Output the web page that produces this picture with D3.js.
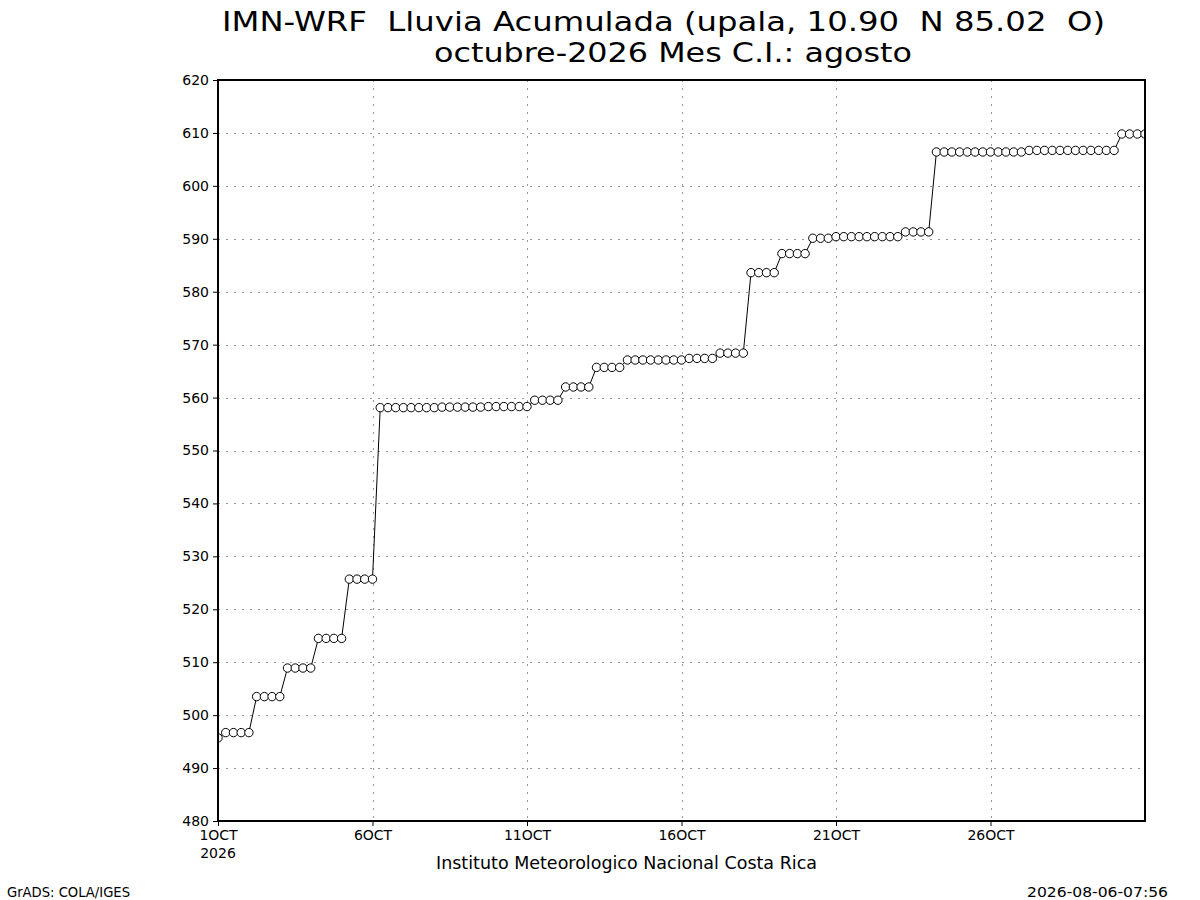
<!DOCTYPE html>
<html>
<head>
<meta charset="utf-8">
<script src="https://cdn.jsdelivr.net/npm/d3@7"></script>
<style>
  body { margin: 0; background: #fff; }
  text { font-family: "DejaVu Sans", sans-serif; fill: #000; }
</style>
</head>
<body>
<div id="chart"></div>
<script>
"use strict"

// accumulated rain (mm), one value every 6 hours from 1OCT 00Z to 31OCT 00Z
const rainValues = [
    495.7,
    496.7, 496.7, 496.7, 496.7,
    503.5, 503.5, 503.5, 503.5,
    508.9, 508.9, 508.9, 508.9,
    514.5, 514.5, 514.5, 514.5,
    525.7, 525.7, 525.7, 525.7,
    558.1, 558.1, 558.1, 558.1, 558.1, 558.1, 558.1, 558.1,
    558.2, 558.2, 558.2, 558.2, 558.2, 558.2,
    558.3, 558.3, 558.3, 558.3, 558.3, 558.3,
    559.5, 559.5, 559.5, 559.5,
    562.0, 562.0, 562.0, 562.0,
    565.7, 565.7, 565.7, 565.7,
    567.1, 567.1, 567.1, 567.1, 567.1, 567.1, 567.1, 567.1,
    567.4, 567.4, 567.4, 567.4,
    568.4, 568.4, 568.4, 568.4,
    583.6, 583.6, 583.6, 583.6,
    587.2, 587.2, 587.2, 587.2,
    590.1, 590.1, 590.1,
    590.4, 590.4, 590.4, 590.4, 590.4, 590.4, 590.4, 590.4, 590.4,
    591.3, 591.3, 591.3, 591.3,
    606.4, 606.4, 606.4, 606.4, 606.4, 606.4, 606.4, 606.4, 606.4, 606.4, 606.4, 606.4,
    606.7, 606.7, 606.7, 606.7, 606.7, 606.7, 606.7, 606.7, 606.7, 606.7, 606.7, 606.7,
    609.8, 609.8, 609.8, 609.8
];

const yTicks = [480, 490, 500, 510, 520, 530, 540, 550, 560, 570, 580, 590, 600, 610, 620];
const xTickDays = [1, 6, 11, 16, 21, 26];
const xTickLabels = ["1OCT", "6OCT", "11OCT", "16OCT", "21OCT", "26OCT"];

const titleLine1 = "IMN-WRF  Lluvia Acumulada (upala, 10.90  N 85.02  O)";
const titleLine2 = "octubre-2026 Mes C.I.: agosto";
const footerCenter = "Instituto Meteorologico Nacional Costa Rica";
const footerLeft = "GrADS: COLA/IGES";
const footerRight = "2026-08-06-07:56";

const width = 1200, height = 900;
const plot = { left: 218, right: 1145, top: 80, bottom: 821 };

const startTime = Date.UTC(2026, 9, 1, 0);
const sixHours = 6 * 3600 * 1000;
const data = rainValues.map((v, i) => ({ t: new Date(startTime + i * sixHours), v: v }));

const x = d3.scaleUtc()
    .domain([new Date(startTime), new Date(Date.UTC(2026, 9, 31, 0))])
    .range([plot.left, plot.right]);

const y = d3.scaleLinear()
    .domain([480, 620])
    .range([plot.bottom, plot.top]);

const svg = d3.select("#chart").append("svg")
    .attr("width", width)
    .attr("height", height);

svg.append("defs").append("clipPath")
    .attr("id", "plotClip")
    .append("rect")
    .attr("x", plot.left)
    .attr("y", plot.top)
    .attr("width", plot.right - plot.left)
    .attr("height", plot.bottom - plot.top);

/* dotted grid */
let grid = svg.append("g")
    .attr("stroke", "#999")
    .attr("stroke-width", 1)
    .attr("stroke-dasharray", "2,6");

grid.selectAll(".hgrid")
    .data(yTicks)
    .enter().append("line")
    .attr("x1", plot.left)
    .attr("x2", plot.right)
    .attr("y1", d => Math.round(y(d)) + 0.5)
    .attr("y2", d => Math.round(y(d)) + 0.5);

grid.selectAll(".vgrid")
    .data(xTickDays)
    .enter().append("line")
    .attr("x1", d => Math.round(x(new Date(Date.UTC(2026, 9, d)))) + 0.5)
    .attr("x2", d => Math.round(x(new Date(Date.UTC(2026, 9, d)))) + 0.5)
    .attr("y1", plot.top)
    .attr("y2", plot.bottom);

/* series line and open circle markers */
let series = svg.append("g").attr("clip-path", "url(#plotClip)");

series.append("path")
    .datum(data)
    .attr("fill", "none")
    .attr("stroke", "#000")
    .attr("stroke-width", 1)
    .attr("d", d3.line().x(d => x(d.t)).y(d => y(d.v)));

series.selectAll("circle")
    .data(data)
    .enter().append("circle")
    .attr("cx", d => x(d.t))
    .attr("cy", d => y(d.v))
    .attr("r", 4.2)
    .attr("fill", "#fff")
    .attr("stroke", "#000")
    .attr("stroke-width", 1);

/* frame */
svg.append("rect")
    .attr("x", plot.left)
    .attr("y", plot.top)
    .attr("width", plot.right - plot.left)
    .attr("height", plot.bottom - plot.top)
    .attr("fill", "none")
    .attr("stroke", "#000")
    .attr("stroke-width", 2);

/* y axis */
let yAxis = d3.axisLeft(y)
    .tickValues(yTicks)
    .tickSize(5)
    .tickPadding(4)
    .tickFormat(d3.format("d"));

svg.append("g")
    .attr("transform", `translate(${plot.left},0)`)
    .call(yAxis)
    .call(g => g.select(".domain").remove())
    .call(g => g.selectAll("text")
        .style("font-family", "DejaVu Sans, sans-serif")
        .style("font-size", "14px")
        .attr("fill", "#000"));

/* x axis */
let xAxis = d3.axisBottom(x)
    .tickValues(xTickDays.map(d => new Date(Date.UTC(2026, 9, d))))
    .tickSize(5)
    .tickPadding(4)
    .tickFormat((d, i) => xTickLabels[i]);

svg.append("g")
    .attr("transform", `translate(0,${plot.bottom})`)
    .call(xAxis)
    .call(g => g.select(".domain").remove())
    .call(g => g.selectAll("text")
        .style("font-family", "DejaVu Sans, sans-serif")
        .style("font-size", "14px")
        .attr("fill", "#000"));

svg.append("text")
    .attr("x", x(new Date(startTime)))
    .attr("y", 858)
    .attr("text-anchor", "middle")
    .style("font-size", "14px")
    .text("2026");

/* titles and footers */
svg.append("text")
    .attr("x", 222)
    .attr("y", 31)
    .attr("textLength", 883)
    .attr("lengthAdjust", "spacingAndGlyphs")
    .style("font-size", "26px")
    .style("white-space", "pre")
    .text(titleLine1);

svg.append("text")
    .attr("x", 434)
    .attr("y", 62)
    .attr("textLength", 478)
    .attr("lengthAdjust", "spacingAndGlyphs")
    .style("font-size", "26px")
    .text(titleLine2);

svg.append("text")
    .attr("x", 436)
    .attr("y", 869)
    .attr("textLength", 381)
    .attr("lengthAdjust", "spacingAndGlyphs")
    .style("font-size", "17px")
    .text(footerCenter);

svg.append("text")
    .attr("x", 7)
    .attr("y", 897)
    .attr("textLength", 123)
    .attr("lengthAdjust", "spacingAndGlyphs")
    .style("font-size", "14px")
    .text(footerLeft);

svg.append("text")
    .attr("x", 1027)
    .attr("y", 897)
    .attr("textLength", 141)
    .attr("lengthAdjust", "spacingAndGlyphs")
    .style("font-size", "14px")
    .text(footerRight);
</script>
</body>
</html>
